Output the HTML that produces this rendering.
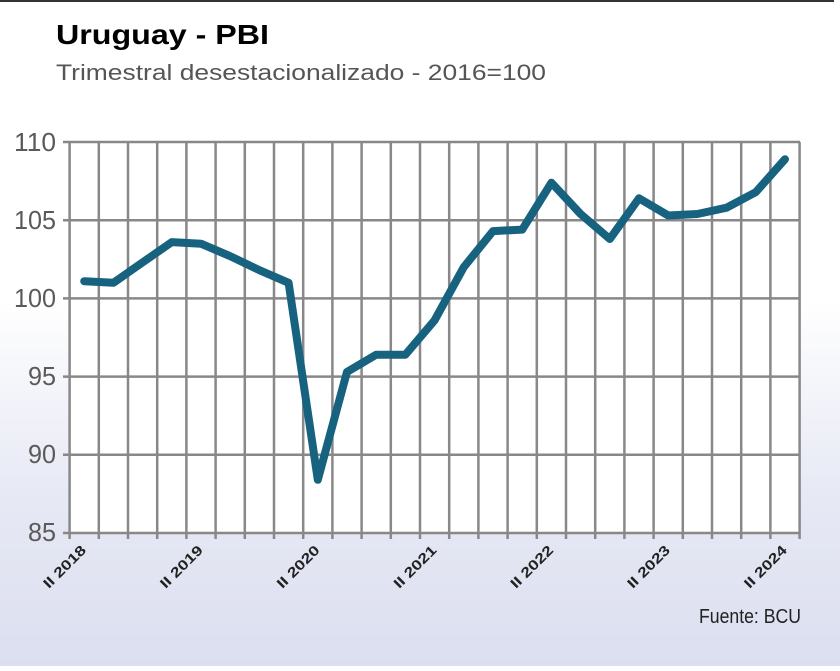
<!DOCTYPE html>
<html><head><meta charset="utf-8"><style>
html,body{margin:0;padding:0}
body{width:840px;height:666px;overflow:hidden;background:linear-gradient(#ffffff 0px,#ffffff 300px,#e6e8f4 500px,#dcdff0 666px);font-family:"Liberation Sans",sans-serif}
</style></head><body>
<svg width="840" height="666" viewBox="0 0 840 666" xmlns="http://www.w3.org/2000/svg">
<line x1="0" y1="1" x2="834" y2="1" stroke="#333" stroke-width="2"/>
<text x="56" y="44" font-family="Liberation Sans" font-weight="bold" font-size="28" fill="#000" textLength="213" lengthAdjust="spacingAndGlyphs">Uruguay - PBI</text>
<text x="56" y="80" font-family="Liberation Sans" font-size="22" fill="#555" textLength="490" lengthAdjust="spacingAndGlyphs">Trimestral desestacionalizado - 2016=100</text>
<rect x="69.6" y="142" width="730" height="391" fill="#fff"/>
<g stroke="#888" stroke-width="2.5">
<line x1="63" y1="142" x2="800" y2="142"/>
<line x1="63" y1="220.2" x2="800" y2="220.2"/>
<line x1="63" y1="298.4" x2="800" y2="298.4"/>
<line x1="63" y1="376.6" x2="800" y2="376.6"/>
<line x1="63" y1="454.8" x2="800" y2="454.8"/>
<line x1="63" y1="533" x2="800" y2="533"/>
</g>
<g font-family="Liberation Sans" font-size="26" fill="#5a5a5a" text-anchor="end">
<text x="56" y="151" textLength="42" lengthAdjust="spacingAndGlyphs">110</text>
<text x="56" y="229" textLength="42" lengthAdjust="spacingAndGlyphs">105</text>
<text x="56" y="307" textLength="42" lengthAdjust="spacingAndGlyphs">100</text>
<text x="56" y="385" textLength="28" lengthAdjust="spacingAndGlyphs">95</text>
<text x="56" y="463" textLength="28" lengthAdjust="spacingAndGlyphs">90</text>
<text x="56" y="541" textLength="28" lengthAdjust="spacingAndGlyphs">85</text>
</g>
<g font-family="Liberation Sans" font-weight="bold" font-size="14" fill="#222" text-anchor="end">
<text transform="translate(87,551) rotate(-45)" textLength="54" lengthAdjust="spacingAndGlyphs">II 2018</text>
<text transform="translate(203.8,551) rotate(-45)" textLength="54" lengthAdjust="spacingAndGlyphs">II 2019</text>
<text transform="translate(320.6,551) rotate(-45)" textLength="54" lengthAdjust="spacingAndGlyphs">II 2020</text>
<text transform="translate(437.4,551) rotate(-45)" textLength="54" lengthAdjust="spacingAndGlyphs">II 2021</text>
<text transform="translate(554.2,551) rotate(-45)" textLength="54" lengthAdjust="spacingAndGlyphs">II 2022</text>
<text transform="translate(671,551) rotate(-45)" textLength="54" lengthAdjust="spacingAndGlyphs">II 2023</text>
<text transform="translate(787.8,551) rotate(-45)" textLength="54" lengthAdjust="spacingAndGlyphs">II 2024</text>
</g>
<text x="801" y="623" text-anchor="end" font-family="Liberation Sans" font-size="20" fill="#222" textLength="102" lengthAdjust="spacingAndGlyphs">Fuente: BCU</text>
<g stroke="#888" stroke-width="2.5">
<line x1="69.6" y1="142" x2="69.6" y2="539"/><line x1="98.8" y1="142" x2="98.8" y2="539"/><line x1="128" y1="142" x2="128" y2="539"/><line x1="157.2" y1="142" x2="157.2" y2="539"/><line x1="186.4" y1="142" x2="186.4" y2="539"/><line x1="215.6" y1="142" x2="215.6" y2="539"/><line x1="244.8" y1="142" x2="244.8" y2="539"/><line x1="274" y1="142" x2="274" y2="539"/><line x1="303.2" y1="142" x2="303.2" y2="539"/><line x1="332.4" y1="142" x2="332.4" y2="539"/><line x1="361.6" y1="142" x2="361.6" y2="539"/><line x1="390.8" y1="142" x2="390.8" y2="539"/><line x1="420" y1="142" x2="420" y2="539"/><line x1="449.2" y1="142" x2="449.2" y2="539"/><line x1="478.4" y1="142" x2="478.4" y2="539"/><line x1="507.6" y1="142" x2="507.6" y2="539"/><line x1="536.8" y1="142" x2="536.8" y2="539"/><line x1="566" y1="142" x2="566" y2="539"/><line x1="595.2" y1="142" x2="595.2" y2="539"/><line x1="624.4" y1="142" x2="624.4" y2="539"/><line x1="653.6" y1="142" x2="653.6" y2="539"/><line x1="682.8" y1="142" x2="682.8" y2="539"/><line x1="712" y1="142" x2="712" y2="539"/><line x1="741.2" y1="142" x2="741.2" y2="539"/><line x1="770.4" y1="142" x2="770.4" y2="539"/><line x1="799.6" y1="142" x2="799.6" y2="539"/>
</g>
<polyline fill="none" stroke="#17627f" stroke-width="8" stroke-linejoin="round" stroke-linecap="round" points="84.2,281.2 113.4,282.8 142.6,262.4 171.8,242.1 201,243.7 230.2,256.2 259.4,270.2 288.6,282.8 317.8,479.8 347,371.9 376.2,354.7 405.4,354.7 434.6,320.3 463.8,267.1 493,231.1 522.2,229.6 551.4,182.7 580.6,214 609.8,239 639,198.3 668.2,215.5 697.4,214 726.6,207.7 755.8,192.1 785,159.2"/>
</svg>
</body></html>
